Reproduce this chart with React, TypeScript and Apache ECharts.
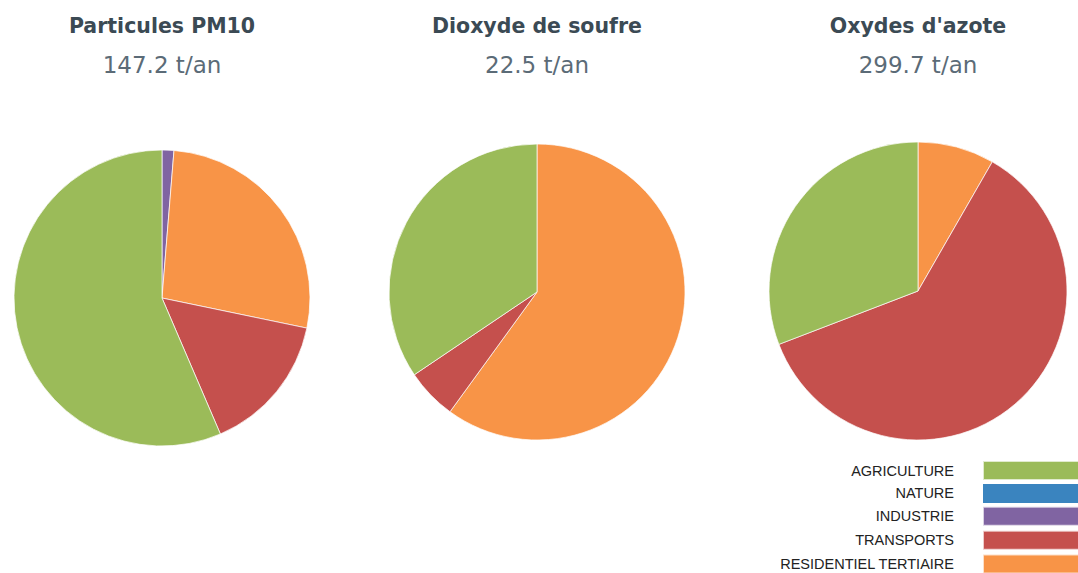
import React, { useEffect, useRef } from "react";
import * as echarts from "echarts";

const legendNames = ["AGRICULTURE", "NATURE", "INDUSTRIE", "TRANSPORTS", "RESIDENTIEL TERTIAIRE"];
const legendColors = ["#9BBB59", "#3A84BF", "#8064A2", "#C5504D", "#F89447"];

const pollutantTitles = ["Particules PM10", "Dioxyde de soufre", "Oxydes d'azote"];
const pollutantTotals = ["147.2 t/an", "22.5 t/an", "299.7 t/an"];

// slice order (clockwise from 12 o'clock) as in the picture
const pm10Names = ["INDUSTRIE", "RESIDENTIEL TERTIAIRE", "TRANSPORTS", "AGRICULTURE", "NATURE"];
const pm10Values = [1.9, 39.7, 22.5, 83.1, 0];
const so2Names = ["RESIDENTIEL TERTIAIRE", "TRANSPORTS", "AGRICULTURE"];
const so2Values = [13.5, 1.25, 7.75];
const noxNames = ["RESIDENTIEL TERTIAIRE", "TRANSPORTS", "AGRICULTURE"];
const noxValues = [24.9, 182.4, 92.4];

const colorOf = (n: string) => legendColors[legendNames.indexOf(n)];

export default function App() {
  const ref = useRef<HTMLDivElement>(null);
  useEffect(() => {
    if (!ref.current) return;
    const chart = echarts.init(ref.current, null, { renderer: "svg" });
    const centersX = [162, 537, 918];
    const centersY = [298, 292, 291];
    const radii = [148, 148, 149];
    const sets = [
      [pm10Names, pm10Values],
      [so2Names, so2Values],
      [noxNames, noxValues],
    ] as [string[], number[]][];
    chart.setOption({
      animation: false,
      backgroundColor: "#ffffff",
      title: pollutantTitles.map((t, i) => ({
        text: t,
        subtext: pollutantTotals[i],
        left: centersX[i],
        top: 15,
        padding: 0,
        textAlign: "center",
        itemGap: 17,
        textStyle: { fontFamily: "DejaVu Sans", fontWeight: "bold", fontSize: 20.5, color: "#3b4a54" },
        subtextStyle: { fontFamily: "DejaVu Sans", fontWeight: "normal", fontSize: 23, color: "#5b6b77" },
      })),
      legend: {
        data: legendNames,
        orient: "vertical",
        align: "right",
        right: -2,
        top: 460,
        height: 200,
        itemWidth: 96,
        itemHeight: 19,
        itemGap: 2.9,
        icon: "rect",
        selectedMode: false,
        padding: 0,
        textStyle: {
          fontFamily: "Liberation Sans",
          fontSize: 14.5,
          color: "#222222",
          padding: [0, 24, 0, 0],
        },
      },
      series: sets.map(([names, values], i) => ({
        type: "pie",
        center: [centersX[i], centersY[i]],
        radius: radii[i],
        startAngle: 90,
        clockwise: true,
        label: { show: false },
        labelLine: { show: false },
        emphasis: { disabled: true },
        itemStyle: { borderColor: "rgba(255,255,255,0.7)", borderWidth: 1 },
        data: names.map((n, j) => ({
          name: n,
          value: values[j],
          itemStyle: { color: colorOf(n), borderWidth: values[j] === 0 ? 0 : 1 },
        })),
      })),
    });
    return () => chart.dispose();
  }, []);
  return (
    <div
      ref={ref}
      style={{ position: "fixed", left: 0, top: 0, width: 1078, height: 573 }}
    />
  );
}
